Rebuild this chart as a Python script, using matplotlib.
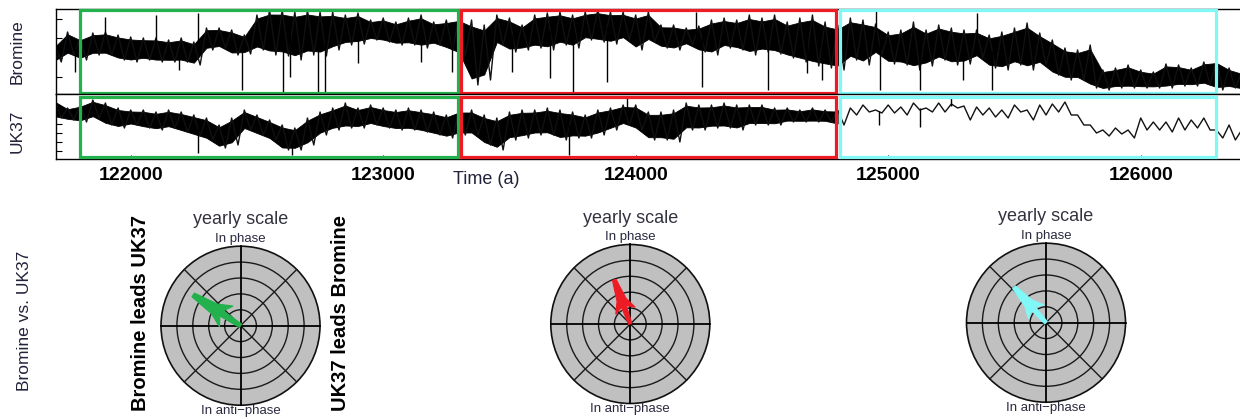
import numpy as np
import matplotlib
matplotlib.use("Agg")
import matplotlib.pyplot as plt
from matplotlib.patches import Rectangle, Circle, Polygon

plt.rcParams['font.family'] = ['Liberation Sans', 'DejaVu Sans']

# ---------------- data ----------------
time_start = 121700      # years
time_step = 50           # spacing of the envelope readings

# Bromine: upper / lower edge of the dense XRF trace (arbitrary units)
bromine_upper = [49, 62, 56, 61, 62, 59, 57, 56, 56, 54, 56, 52, 66, 66, 64, 59,
                 79, 84, 84, 82, 84, 82, 82, 79, 81, 74, 76, 72, 76, 79, 72, 74,
                 77, 74, 69, 79, 76, 69, 79, 81, 82, 79, 82, 84, 82, 82, 79, 82,
                 69, 69, 66, 68, 74, 76, 74, 79, 76, 79, 72, 76, 79, 72, 69, 76,
                 74, 70, 62, 64, 72, 64, 69, 66, 64, 64, 59, 62, 66, 71, 61, 54,
                 46, 44, 49, 24, 26, 29, 24, 22, 30, 29, 26, 32, 34, 26, 22]
bromine_lower = [32, 39, 34, 39, 39, 34, 32, 34, 32, 32, 32, 29, 44, 46, 39, 40,
                 44, 39, 38, 34, 39, 38, 44, 49, 50, 54, 52, 49, 49, 46, 49, 44,
                 38, 9, 14, 49, 42, 44, 46, 44, 49, 46, 54, 52, 50, 54, 44, 52,
                 46, 44, 49, 42, 39, 46, 44, 39, 42, 40, 36, 32, 28, 26, 24, 34,
                 29, 39, 30, 29, 24, 28, 34, 29, 30, 36, 26, 24, 29, 24, 29, 19,
                 14, 14, 6, 4, 6, 6, 6, 6, 6, 8, 8, 9, 4, 6, 4]
# isolated spikes of the Bromine trace
bromine_spike_time = [121780, 121900, 122100, 122190, 122265, 122442, 122604, 122632,
                      122742, 122770, 122900, 123150, 123273, 123510, 123660, 123751,
                      123886, 124240, 124262, 124524, 124679, 124738, 124950, 124967,
                      125126, 125296, 125352, 125411]
bromine_spike_value = [22, 77, 79, 24, 81, 4, 2, 17,
                       2, 2, 31, 32, 22, 22, 16, 2,
                       12, 82, 7, 4, 21, 14, 84, 4,
                       4, 14, 81, 4]

# UK37: upper / lower edge of the trace (arbitrary units)
uk37_upper = [58, 50, 53, 58, 55, 50, 48, 48, 46, 48, 46, 43, 40, 33, 40, 48,
              43, 38, 33, 30, 40, 46, 50, 55, 50, 53, 50, 48, 50, 48, 46, 43,
              48, 48, 43, 40, 46, 48, 48, 50, 48, 46, 43, 48, 50, 53, 53, 46,
              46, 48, 55, 53, 53, 55, 53, 53, 53, 50, 50, 48, 50, 48, 48, 50,
              53, 48, 53, 51, 55, 50, 55, 54, 52, 51, 50, 48, 53, 48, 53, 54,
              56, 43, 33, 28, 30, 28, 40, 36, 36, 40, 38, 40, 28, 33, 28]
uk37_lower = [40, 38, 36, 40, 33, 30, 33, 30, 28, 30, 26, 22, 18, 10, 13, 28,
              23, 18, 8, 8, 13, 23, 28, 30, 30, 33, 30, 28, 28, 26, 23, 20,
              23, 23, 13, 8, 18, 20, 23, 23, 18, 20, 20, 23, 28, 33, 28, 18,
              18, 16, 28, 28, 30, 30, 28, 33, 33, 33, 36, 36, 36, 36, 33, 43,
              46, 45, 45, 43, 48, 46, 46, 50, 38, 43, 41, 40, 46, 38, 43, 46,
              43, 33, 25, 22, 24, 20, 28, 28, 26, 28, 30, 28, 20, 18, 16]
uk37_spike_time = [122267, 122640, 123735, 123966, 124965, 125126, 125250]
uk37_spike_value = [5, 3, 3, 60, 33, 31, 60]

x_ticks = [122000, 123000, 124000, 125000, 126000]

# analysis windows
window_start = [121800, 123310, 124810]
window_end = [123295, 124795, 126300]
window_colors = ['#22b14c', '#ed1c24', '#80f8f8']

# phase arrows (yearly scale): angle counter-clockwise from "In phase", length 0..1
phase_angle_deg = [57, 20, 42]
phase_length = [0.71, 0.59, 0.60]

# ---------------- figure ----------------
W, H, DPI = 1240, 419, 100
fig = plt.figure(figsize=(W / DPI, H / DPI), dpi=DPI)


def fx(x):
    return x / W


def fy(y):
    return 1 - y / H


def draw_trace(ax, upper, lower, spike_t, spike_v, dense_until):
    n = len(upper)
    up = np.asarray(upper, float)
    lo = np.asarray(lower, float)
    t_up = time_start + time_step * np.arange(n)
    t_lo = t_up + time_step / 2
    inset = 0.1 * (up - lo)
    ax.fill_between(t_up, lo + inset, up - inset, where=t_up <= dense_until,
                    color='black', lw=0.6, edgecolor='black')
    t = np.empty(2 * n)
    v = np.empty(2 * n)
    t[0::2], t[1::2] = t_up, t_lo
    v[0::2], v[1::2] = up, lo
    ax.plot(t, v, color='#111111', lw=1.0)
    mid = (up + lo) / 2
    base = np.interp(spike_t, t_up, mid)
    ax.vlines(spike_t, np.minimum(base, spike_v), np.maximum(base, spike_v), color='black', lw=1.0)


left_px, right_px = 55.7, 1246
top_b, mid_px, bot_px = 9.3, 94.3, 159
xlim = (121703, 126417)

ax_b = fig.add_axes([fx(left_px), fy(mid_px), (right_px - left_px) / W, (mid_px - top_b) / H])
ax_u = fig.add_axes([fx(left_px), fy(bot_px), (right_px - left_px) / W, (bot_px - mid_px) / H])

draw_trace(ax_b, bromine_upper, bromine_lower, bromine_spike_time, bromine_spike_value, 1e9)
draw_trace(ax_u, uk37_upper, uk37_lower, uk37_spike_time, uk37_spike_value, 124800)

ax_b.set_xlim(*xlim)
ax_u.set_xlim(*xlim)
ax_b.set_ylim(-0.3, 84.7)
ax_u.set_ylim(-1, 63.7)
ax_b.set_yticks([16.5, 36, 55.5, 75])
ax_u.set_yticks([7, 16, 25, 34, 43])
for ax in (ax_b, ax_u):
    ax.spines['right'].set_visible(False)
    for s in ax.spines.values():
        s.set_linewidth(1.0)
    ax.tick_params(axis='y', direction='in', length=4, labelleft=False, width=0.8)
ax_b.tick_params(axis='x', bottom=False, labelbottom=False)
ax_u.set_xticks(x_ticks)
ax_u.set_xticklabels([str(t) for t in x_ticks], fontsize=14, fontweight='bold')
ax_u.tick_params(axis='x', direction='in', length=3, pad=6, width=0.8)

# window rectangles
for ax, (y0, y1) in ((ax_b, (0.019, 0.986)), (ax_u, (0.036, 0.963))):
    for s, e, c in zip(window_start, window_end, window_colors):
        ax.add_patch(Rectangle((s, y0), e - s, y1 - y0, transform=ax.get_xaxis_transform(),
                               fill=False, edgecolor=c, lw=2.3, clip_on=False, zorder=5))

txt_col = '#22223a'
fig.text(fx(17), fy(52), 'Bromine', rotation=90, ha='center', va='center', fontsize=12.5, color=txt_col)
fig.text(fx(17), fy(131), 'UK37', rotation=90, ha='center', va='center', fontsize=12.5, color=txt_col)
fig.text(fx(486), fy(179), 'Time (a)', ha='center', va='center', fontsize=13, color=txt_col)

# ---------------- phase roses ----------------
centers = [(240.5, 325.7), (630.3, 324.0), (1046.0, 322.7)]
R = 79.5
pad = 1.06
arrow_shape = [(1.0, 0.04), (0.55, 0.10), (0.30, 0.22), (0.40, 0.055), (0.0, 0.035),
               (0.0, -0.035), (0.40, -0.055), (0.30, -0.22), (0.55, -0.10), (1.0, -0.04)]

for (cx, cy), ang, ln, col in zip(centers, phase_angle_deg, phase_length, window_colors):
    ax = fig.add_axes([fx(cx - R * pad), fy(cy + R * pad), 2 * R * pad / W, 2 * R * pad / H])
    ax.set_xlim(-pad, pad)
    ax.set_ylim(-pad, pad)
    ax.axis('off')
    ax.add_patch(Circle((0, 0), 1, facecolor='#c0c0c0', edgecolor='#111111', lw=1.2, zorder=1))
    for r in (0.2, 0.4, 0.6, 0.8):
        ax.add_patch(Circle((0, 0), r, fill=False, edgecolor='#1a1a1a', lw=1.0, zorder=2))
    for a in (45, 135):
        th = np.deg2rad(a)
        ax.plot([-np.cos(th), np.cos(th)], [-np.sin(th), np.sin(th)], color='#1a1a1a', lw=1.0, zorder=2)
    ax.plot([-1, 1], [0, 0], color='black', lw=1.3, zorder=3)
    ax.plot([0, 0], [-1, 1], color='black', lw=1.3, zorder=3)
    th = np.deg2rad(ang)
    u = np.array([-np.sin(th), np.cos(th)])
    n = np.array([np.cos(th), np.sin(th)])
    pts = [a_ * ln * u + p_ * ln * n for a_, p_ in arrow_shape]
    ax.add_patch(Polygon(pts, closed=True, facecolor=col, edgecolor=col, lw=0.8, zorder=4))

    fig.text(fx(cx), fy(cy - 106), 'yearly scale', ha='center', va='center', fontsize=13, color='#333340')
    fig.text(fx(cx), fy(cy - 87), 'In phase', ha='center', va='center', fontsize=9.5, color='#2a2a40')
    fig.text(fx(cx), fy(cy + 85), 'In anti\u2212phase', ha='center', va='center', fontsize=9.5, color='#2a2a40')

fig.text(fx(25), fy(321), 'Bromine vs. UK37', rotation=90, ha='center', va='center', fontsize=12.5, color=txt_col)
fig.text(fx(140), fy(312.5), 'Bromine leads UK37', rotation=90, ha='center', va='center',
         fontsize=14.5, fontweight='bold', color='black')
fig.text(fx(341), fy(313), 'UK37 leads Bromine', rotation=90, ha='center', va='center',
         fontsize=14.5, fontweight='bold', color='black')

fig.savefig('out.png', dpi=DPI)
